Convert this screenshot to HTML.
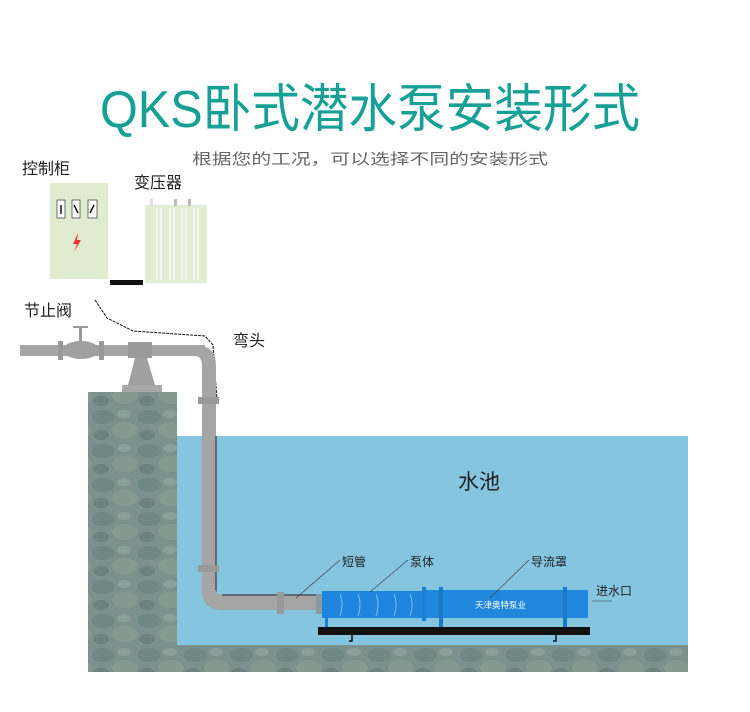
<!DOCTYPE html>
<html><head><meta charset="utf-8"><style>
html,body{margin:0;padding:0;background:#fff;}
svg{display:block;}
text{font-family:"Liberation Sans","Noto Sans CJK SC",sans-serif;}
</style></head><body>
<svg width="750" height="712" viewBox="0 0 750 712" xmlns="http://www.w3.org/2000/svg">
<defs>
<pattern id="rock" width="46" height="34" patternUnits="userSpaceOnUse">
<rect width="46" height="34" fill="#7a918c"/>
<ellipse cx="11" cy="9" rx="12" ry="7" fill="#708883"/>
<ellipse cx="33" cy="22" rx="13" ry="8" fill="#84998f"/>
<ellipse cx="9" cy="27" rx="8" ry="5" fill="#6b827e"/>
<ellipse cx="32" cy="6" rx="7" ry="4" fill="#8aa099"/>
</pattern>
</defs>
<text x="100" y="127" font-size="52" fill="#17a096" textLength="540" lengthAdjust="spacingAndGlyphs">QKS卧式潜水泵安装形式</text>
<text x="192" y="164" font-size="15" fill="#666" textLength="356" lengthAdjust="spacingAndGlyphs">根据您的工况，可以选择不同的安装形式</text>

<text x="22" y="174" font-size="16" fill="#222">控制柜</text>
<text x="134" y="188" font-size="16" fill="#222">变压器</text>
<text x="24" y="316" font-size="16" fill="#222">节止阀</text>
<text x="233" y="346" font-size="16" fill="#222">弯头</text>

<rect x="50" y="183" width="58" height="96" fill="#e0ecd0"/>
<rect x="57" y="200" width="8" height="18" fill="#fff" stroke="#333" stroke-width="0.7"/>
<rect x="72" y="200" width="8" height="18" fill="#fff" stroke="#333" stroke-width="0.7"/>
<rect x="88" y="200" width="9" height="18" fill="#fff" stroke="#333" stroke-width="0.7"/>
<path d="M61 214 L61 205 M74 205 L78 213 M90 213 L94 205" stroke="#111" stroke-width="1.5"/>
<path d="M78 233 L73 244 L77 244 L74 252 L81 240 L77 240 Z" fill="#e33"/>
<rect x="110" y="280" width="33" height="5" fill="#111"/>
<rect x="145" y="205" width="62" height="78" fill="#e3edd3"/>
<rect x="150" y="199" width="3" height="7" fill="#ddd"/><rect x="174" y="199" width="3" height="7" fill="#bbb"/><rect x="188" y="199" width="3" height="7" fill="#bbb"/>
<g stroke="#fff" stroke-width="1.3">
<line x1="157" y1="208" x2="157" y2="280"/><line x1="161" y1="208" x2="161" y2="280"/>
<line x1="170" y1="208" x2="170" y2="280"/><line x1="174" y1="208" x2="174" y2="280"/>
<line x1="182" y1="208" x2="182" y2="280"/><line x1="186" y1="208" x2="186" y2="280"/>
<line x1="194" y1="208" x2="194" y2="280"/><line x1="198" y1="208" x2="198" y2="280"/>
</g>
<path d="M95 300 L107 318 L133 331 L205 336 L213 345 L217 400" fill="none" stroke="#111" stroke-width="1" stroke-dasharray="3,1"/>

<rect x="177" y="436" width="511" height="210" fill="#86c5e0"/>
<rect x="88" y="392" width="89" height="280" fill="url(#rock)"/>
<rect x="88" y="645" width="600" height="27" fill="url(#rock)"/>

<rect x="20" y="345" width="185" height="11" fill="#a5a5a5"/>
<path d="M195 345 Q216 345 216 366 L216 380 L202 380 L202 366 Q202 356 195 356 Z" fill="#a5a5a5"/>
<rect x="202" y="366" width="14" height="225" fill="#a5a5a5"/>
<line x1="216" y1="436" x2="216" y2="592" stroke="#222" stroke-width="1"/>
<path d="M202 590 Q202 610 222 610 L322 610 L322 595 L222 595 Q216 595 216 590 Z" fill="#a5a5a5"/>
<line x1="222" y1="595" x2="320" y2="595" stroke="#222" stroke-width="1"/>
<rect x="198" y="397" width="21" height="7" fill="#999"/>
<rect x="198" y="565" width="21" height="7" fill="#999"/>
<rect x="277" y="592" width="7" height="22" fill="#999"/>
<rect x="58" y="341" width="5" height="19" fill="#999"/>
<rect x="99" y="341" width="5" height="19" fill="#999"/>
<ellipse cx="81" cy="350" rx="18" ry="9" fill="#a0a0a0"/>
<rect x="79" y="328" width="3" height="14" fill="#999"/>
<rect x="73" y="326" width="15" height="2" fill="#999"/>
<rect x="128" y="342" width="24" height="16" fill="#9a9a9a"/>
<path d="M135 358 L147 358 L155 385 L128 385 Z" fill="#a0a0a0"/>
<rect x="122" y="385" width="40" height="7" fill="#a8a8a8"/>

<rect x="316" y="594" width="6" height="20" fill="#8a9aa0"/>
<rect x="322" y="591" width="102" height="27" fill="#1e86dc"/>
<g stroke="#7fc0f0" stroke-width="1" fill="none">
<path d="M340 594 q4 10 0 22 M358 594 q4 10 0 22 M376 594 q4 10 0 22 M394 594 q4 10 0 22 M410 594 q4 10 0 22"/>
</g>
<rect x="422" y="587" width="4" height="34" fill="#1d7fd6"/>
<rect x="426" y="590" width="162" height="28" fill="#2088dc"/>
<rect x="439" y="587" width="4" height="40" fill="#1a78c8"/>
<rect x="563" y="587" width="4" height="40" fill="#1a78c8"/>
<rect x="325" y="618" width="3" height="10" fill="#1d7fd6"/>
<text x="475" y="608" font-size="8.5" fill="#fff">天津奥特泵业</text>
<rect x="318" y="627" width="272" height="8" fill="#111"/>
<path d="M352 635 v6 h-3 M556 635 v6 h-3" stroke="#111" stroke-width="1.5" fill="none"/>

<text x="458" y="489" font-size="21" fill="#222">水池</text>
<g font-size="12" fill="#222">
<text x="342" y="566">短管</text>
<text x="410" y="566">泵体</text>
<text x="531" y="566">导流罩</text>
<text x="596" y="595">进水口</text>
</g>
<g stroke="#333" stroke-width="0.6">
<line x1="340" y1="560" x2="296" y2="598"/>
<line x1="408" y1="560" x2="370" y2="592"/>
<line x1="529" y1="560" x2="490" y2="598"/>
<line x1="592" y1="601" x2="612" y2="601"/>
</g>
</svg>
</body></html>
